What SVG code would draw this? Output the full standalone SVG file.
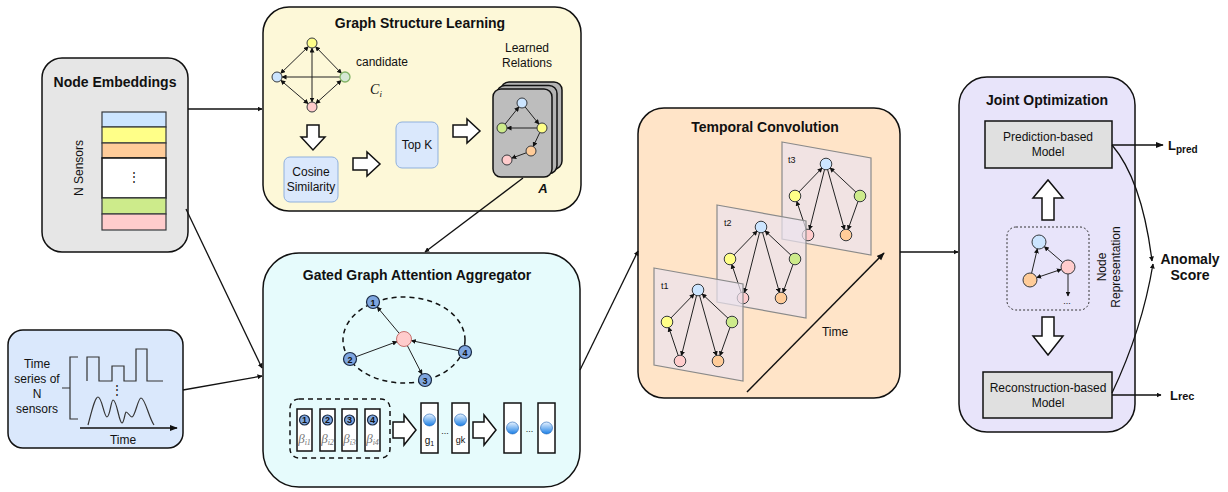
<svg xmlns="http://www.w3.org/2000/svg" width="1228" height="492" viewBox="0 0 1228 492">
<style>
.box{stroke:#111;stroke-width:1.5}
.ttl{font-family:"Liberation Sans",Arial,sans-serif;font-weight:bold;font-size:14px;fill:#111;text-anchor:middle}
.t{font-family:"Liberation Sans",Arial,sans-serif;font-size:12px;fill:#111;text-anchor:middle}
.sm{font-family:"Liberation Sans",Arial,sans-serif;font-size:9px;fill:#111}
.e{stroke:#222;stroke-width:1;fill:none}
.conn{stroke:#111;stroke-width:1.3;fill:none}
.blk{fill:#fff;stroke:#111;stroke-width:1.5;stroke-linejoin:miter}
.nb{fill:#cce5ff;stroke:#36393d;stroke-width:1}
.ny{fill:#ffff88;stroke:#36393d;stroke-width:1}
.ng{fill:#cdeb8b;stroke:#36393d;stroke-width:1}
.np{fill:#ffcccc;stroke:#36393d;stroke-width:1}
.no{fill:#ffcc99;stroke:#36393d;stroke-width:1}
.nd{fill:#7ea6e0;stroke:#1a2a44;stroke-width:1.2}
.num{font-family:"Liberation Sans",Arial,sans-serif;font-size:9px;font-weight:bold;fill:#111;text-anchor:middle}
.beta{font-family:"Liberation Serif","Times New Roman",serif;font-style:italic;font-size:13px;fill:#777;text-anchor:middle}
.gb{fill:#fff;stroke:#111;stroke-width:1.5}
</style>
<defs>
<marker id="ar" viewBox="0 0 10 10" refX="9" refY="5" markerWidth="5" markerHeight="5" orient="auto-start-reverse" markerUnits="userSpaceOnUse"><path d="M0,0 L10,5 L0,10 Z" fill="#111"/></marker>
<marker id="arL" viewBox="0 0 10 10" refX="9" refY="5" markerWidth="8" markerHeight="8" orient="auto-start-reverse" markerUnits="userSpaceOnUse"><path d="M0,1 L10,5 L0,9 Z" fill="#111"/></marker>
<linearGradient id="bg" x1="0" y1="0" x2="0" y2="1"><stop offset="0" stop-color="#e8f3ff"/><stop offset="1" stop-color="#1a7fe6"/></linearGradient>
<g id="panel">
<path d="M0,0 L89,16 L89,113 L0,97 Z" fill="#ebe2ee" fill-opacity="0.7" stroke="#8a8a8a" stroke-width="1.2"/>
<line class="e" x1="16.8" y1="50.1" x2="40.2" y2="25.9" marker-end="url(#ar)"/>
<line class="e" x1="42.6" y1="27.3" x2="27.4" y2="87.7" marker-end="url(#ar)"/>
<line class="e" x1="24.3" y1="87.8" x2="14.7" y2="59.2" marker-end="url(#ar)"/>
<line class="e" x1="45.5" y1="27.3" x2="62.5" y2="87.7" marker-end="url(#ar)"/>
<line class="e" x1="74" y1="50.2" x2="48" y2="25.8" marker-end="url(#ar)"/>
<line class="e" x1="76.1" y1="59.2" x2="65.9" y2="87.8" marker-end="url(#ar)"/>
<circle class="nb" cx="44" cy="22" r="5.8"/>
<circle class="ny" cx="13" cy="54" r="5.8"/>
<circle class="ng" cx="78" cy="54" r="5.8"/>
<circle class="np" cx="26" cy="93" r="5.8"/>
<circle class="no" cx="64" cy="93" r="5.8"/>
</g>
</defs>

<!-- Node Embeddings -->
<g id="node-embeddings">
<rect class="box" x="42" y="58" width="146" height="194" rx="20" fill="#e6e6e6"/>
<text class="ttl" x="115" y="87">Node Embeddings</text>
<rect x="102" y="112" width="64" height="15" fill="#cce5ff" stroke="#36393d" stroke-width="1.2"/>
<rect x="102" y="127" width="64" height="16" fill="#ffff88" stroke="#36393d" stroke-width="1.2"/>
<rect x="102" y="143" width="64" height="15" fill="#ffcc99" stroke="#36393d" stroke-width="1.2"/>
<rect x="102" y="158" width="64" height="40" fill="#ffffff" stroke="#111" stroke-width="1.5"/>
<text class="t" x="134" y="181">⋮</text>
<rect x="102" y="198" width="64" height="16" fill="#cdeb8b" stroke="#36393d" stroke-width="1.2"/>
<rect x="102" y="214" width="64" height="16" fill="#ffcccc" stroke="#36393d" stroke-width="1.2"/>
<text class="t" x="0" y="0" transform="translate(83,168) rotate(-90)">N Sensors</text>
</g>

<!-- Graph Structure Learning -->
<g id="graph-structure-learning">
<rect class="box" x="263" y="7" width="318" height="204" rx="26" fill="#fdf8d8"/>
<text class="ttl" x="420" y="28">Graph Structure Learning</text>
<line class="e" x1="308.4" y1="46.5" x2="280.6" y2="73.5" marker-start="url(#ar)" marker-end="url(#ar)"/>
<line class="e" x1="315.5" y1="46.6" x2="341.5" y2="73.4" marker-start="url(#ar)" marker-end="url(#ar)"/>
<line class="e" x1="312" y1="48" x2="312" y2="102" marker-start="url(#ar)" marker-end="url(#ar)"/>
<line class="e" x1="280.8" y1="80.3" x2="308.2" y2="103.7" marker-start="url(#ar)" marker-end="url(#ar)"/>
<line class="e" x1="341.3" y1="80.4" x2="315.7" y2="103.6" marker-start="url(#ar)" marker-end="url(#ar)"/>
<line class="e" x1="340" y1="77" x2="282" y2="77" marker-end="url(#ar)"/>
<circle class="ny" cx="312" cy="43" r="5"/>
<circle class="nb" cx="277" cy="77" r="5"/>
<circle cx="345" cy="77" r="5" fill="#d5e8d4" stroke="#82b366" stroke-width="1.3"/>
<circle class="np" cx="312" cy="107" r="5"/>
<text class="t" x="382" y="66">candidate</text>
<text x="376" y="94" font-family="'Liberation Serif','Times New Roman',serif" font-style="italic" font-size="14" fill="#111" text-anchor="middle">C<tspan font-size="9" dy="3">i</tspan></text>
<path class="blk" d="M307,125 V137 H301 L313,150 L325,137 H319 V125 Z"/>
<rect x="284" y="157" width="54" height="45" rx="6" fill="#dae8fc" stroke="#8fb0dd" stroke-width="1"/>
<text class="t" x="311" y="176">Cosine</text>
<text class="t" x="311" y="191">Similarity</text>
<path class="blk" d="M353,158 H367 V152 L380,164 L367,176 V170 H353 Z"/>
<rect x="396" y="122" width="42" height="46" rx="6" fill="#dae8fc" stroke="#8fb0dd" stroke-width="1"/>
<text class="t" x="417" y="149">Top K</text>
<path class="blk" d="M453,125 H467 V119 L480,131 L467,143 V137 H453 Z"/>
<text class="t" x="527" y="52">Learned</text>
<text class="t" x="527" y="67">Relations</text>
<rect x="501" y="82" width="61" height="87" rx="8" fill="#b3b3b3" stroke="#111" stroke-width="1.5"/>
<rect x="497" y="85.5" width="60" height="88" rx="8" fill="#b3b3b3" stroke="#111" stroke-width="1.5"/>
<rect x="493" y="89" width="59" height="88" rx="8" fill="#bdbdbd" stroke="#111" stroke-width="1.5"/>
<line class="e" x1="525.1" y1="106.9" x2="538.9" y2="124.1" marker-end="url(#ar)"/>
<line class="e" x1="505.1" y1="124.1" x2="518.9" y2="106.9" marker-end="url(#ar)"/>
<line class="e" x1="537" y1="128" x2="507" y2="128" marker-end="url(#ar)"/>
<line class="e" x1="539.8" y1="132.5" x2="533.2" y2="146.5" marker-end="url(#ar)"/>
<line class="e" x1="526.3" y1="152.8" x2="511.7" y2="158.2" marker-end="url(#ar)"/>
<circle class="nb" cx="522" cy="103" r="5"/>
<circle class="ng" cx="502" cy="128" r="5"/>
<circle class="ny" cx="542" cy="128" r="5"/>
<circle class="no" cx="531" cy="151" r="5"/>
<circle class="np" cx="507" cy="160" r="5"/>
<text x="543" y="193" font-family="'Liberation Sans',Arial,sans-serif" font-weight="bold" font-style="italic" font-size="13" fill="#111" text-anchor="middle">A</text>
</g>

<!-- Time series -->
<g id="time-series">
<rect class="box" x="8" y="330" width="175" height="118" rx="15" fill="#dae8fc"/>
<text class="t" x="37" y="368" font-size="11.5">Time</text>
<text class="t" x="37" y="383" font-size="11.5">series of</text>
<text class="t" x="37" y="398" font-size="11.5">N</text>
<text class="t" x="37" y="413" font-size="11.5">sensors</text>
<path d="M78,357 H70 V419 H78 M62,388 H70" fill="none" stroke="#333" stroke-width="1.2"/>
<polyline points="87,381 87,357 99,357 99,381 112,381 112,366 124,366 124,381 136,381 136,349 147,349 147,381 163,381" fill="none" stroke="#333" stroke-width="1.2"/>
<text class="t" x="117" y="394" font-size="10">⋮</text>
<path d="M88,425 C92,410 95,397 98,397 C102,397 104,417 107,417 C110,417 111,400 113,400 C117,400 119,423 122,423 C124,423 125,412 126,412 C128,412 130,417 132,417 C135,417 138,398 141,398 C145,398 149,418 154,425" fill="none" stroke="#333" stroke-width="1.2"/>
<line x1="80" y1="428" x2="177" y2="428" stroke="#111" stroke-width="1.3" marker-end="url(#arL)"/>
<text class="t" x="123" y="444">Time</text>
</g>

<!-- Gated Graph Attention Aggregator -->
<g id="gated-graph-attention">
<rect class="box" x="263" y="253" width="317" height="234" rx="36" fill="#e6fbfc"/>
<text class="ttl" x="417" y="280">Gated Graph Attention Aggregator</text>
<ellipse cx="404" cy="340" rx="61" ry="43" fill="none" stroke="#111" stroke-width="1.5" stroke-dasharray="5,4"/>
<line class="e" x1="399.2" y1="333.3" x2="377.2" y2="307" marker-end="url(#ar)"/>
<line class="e" x1="356.1" y1="356.7" x2="397" y2="341.6" marker-end="url(#ar)"/>
<line class="e" x1="407.4" y1="345.7" x2="422" y2="374.2" marker-end="url(#ar)"/>
<line class="e" x1="458.6" y1="350.6" x2="411.3" y2="340.6" marker-end="url(#ar)"/>
<circle cx="404" cy="339" r="7.5" fill="#ffcccc" stroke="#b85450" stroke-width="0.8"/>
<circle class="nd" cx="373" cy="302" r="6.5"/><text class="num" x="373" y="305.5">1</text>
<circle class="nd" cx="350" cy="359" r="6.5"/><text class="num" x="350" y="362.5">2</text>
<circle class="nd" cx="425" cy="380" r="6.5"/><text class="num" x="425" y="383.5">3</text>
<circle class="nd" cx="465" cy="352" r="6.5"/><text class="num" x="465" y="355.5">4</text>
<rect x="290" y="399" width="100" height="59" rx="9" fill="none" stroke="#111" stroke-width="1.5" stroke-dasharray="5,4"/>
<rect class="gb" x="297" y="409" width="15" height="42"/>
<rect class="gb" x="320" y="409" width="15" height="42"/>
<rect class="gb" x="342" y="409" width="15" height="42"/>
<rect class="gb" x="365" y="409" width="15" height="42"/>
<circle class="nd" cx="304.5" cy="420" r="5"/><text class="num" x="304.5" y="423">1</text>
<circle class="nd" cx="327.5" cy="420" r="5"/><text class="num" x="327.5" y="423">2</text>
<circle class="nd" cx="349.5" cy="420" r="5"/><text class="num" x="349.5" y="423">3</text>
<circle class="nd" cx="372.5" cy="420" r="5"/><text class="num" x="372.5" y="423">4</text>
<text class="beta" x="304.5" y="443">β<tspan font-size="8" dy="2">i1</tspan></text>
<text class="beta" x="327.5" y="443">β<tspan font-size="8" dy="2">i2</tspan></text>
<text class="beta" x="349.5" y="443">β<tspan font-size="8" dy="2">i3</tspan></text>
<text class="beta" x="372.5" y="443">β<tspan font-size="8" dy="2">i4</tspan></text>
<path class="blk" d="M393,422 H404 V415 L416,430 L404,445 V438 H393 Z"/>
<rect class="gb" x="421" y="403" width="17" height="50"/>
<rect class="gb" x="452" y="403" width="17" height="50"/>
<circle cx="429.5" cy="420" r="6" fill="url(#bg)" stroke="#1a5fb4" stroke-width="0.6"/>
<circle cx="460.5" cy="420" r="6" fill="url(#bg)" stroke="#1a5fb4" stroke-width="0.6"/>
<text x="429.5" y="444" font-family="'Liberation Sans',Arial,sans-serif" font-size="10" fill="#111" text-anchor="middle">g<tspan font-size="7" dy="2">1</tspan></text>
<text x="460.5" y="443" font-family="'Liberation Sans',Arial,sans-serif" font-size="9" fill="#111" text-anchor="middle">gk</text>
<text x="445" y="434" font-family="'Liberation Sans',Arial,sans-serif" font-size="9" fill="#111" text-anchor="middle">...</text>
<path class="blk" d="M473,422 H484 V415 L496,430 L484,445 V438 H473 Z"/>
<rect class="gb" x="504" y="403" width="17" height="50"/>
<rect class="gb" x="538" y="403" width="17" height="50"/>
<circle cx="512.5" cy="428" r="6" fill="url(#bg)" stroke="#1a5fb4" stroke-width="0.6"/>
<circle cx="546.5" cy="428" r="6" fill="url(#bg)" stroke="#1a5fb4" stroke-width="0.6"/>
<text x="529.5" y="432" font-family="'Liberation Sans',Arial,sans-serif" font-size="9" fill="#111" text-anchor="middle">...</text>
</g>

<!-- Temporal Convolution -->
<g id="temporal-convolution">
<rect class="box" x="638" y="108" width="262" height="290" rx="26" fill="#ffe4c8"/>
<text class="ttl" x="765" y="132">Temporal Convolution</text>
<use href="#panel" transform="translate(782,142)"/>
<use href="#panel" transform="translate(717,205)"/>
<use href="#panel" transform="translate(654,268)"/>
<text class="sm" x="788" y="163">t3</text>
<text class="sm" x="724" y="226">t2</text>
<text class="sm" x="661" y="289">t1</text>
<line x1="747" y1="392" x2="884" y2="253" stroke="#111" stroke-width="1.5" marker-end="url(#arL)"/>
<text class="t" x="835" y="336">Time</text>
</g>

<!-- Joint Optimization -->
<g id="joint-optimization">
<rect class="box" x="959" y="77" width="176" height="355" rx="28" fill="#e8e4fa"/>
<text class="ttl" x="1047" y="105">Joint Optimization</text>
<rect x="985" y="121" width="127" height="47" fill="#e0e0e0" stroke="#111" stroke-width="1.5"/>
<text class="t" x="1048" y="141">Prediction-based</text>
<text class="t" x="1048" y="156">Model</text>
<path class="blk" d="M1042,220 V198 H1033 L1048,180 L1063,198 H1054 V220 Z"/>
<rect x="1007" y="227" width="82" height="83" rx="9" fill="none" stroke="#333" stroke-width="1" stroke-dasharray="2,2"/>
<line class="e" x1="1031.6" y1="273.2" x2="1037.4" y2="248.8" marker-end="url(#ar)"/>
<line class="e" x1="1062.7" y1="262.4" x2="1044.3" y2="246.6" marker-end="url(#ar)"/>
<line class="e" x1="1061.4" y1="269.3" x2="1036.6" y2="277.7" marker-start="url(#ar)" marker-end="url(#ar)"/>
<line class="e" x1="1068" y1="274" x2="1068" y2="296" marker-end="url(#ar)"/>
<text x="1067" y="304" font-family="'Liberation Sans',Arial,sans-serif" font-size="9" fill="#111" text-anchor="middle">...</text>
<circle class="nb" cx="1039" cy="242" r="7"/>
<circle class="np" cx="1068" cy="267" r="7"/>
<circle class="no" cx="1030" cy="280" r="7"/>
<text class="t" font-size="11" transform="translate(1106,267) rotate(-90)">Node</text>
<text class="t" font-size="11" transform="translate(1120,267) rotate(-90)">Representation</text>
<path class="blk" d="M1042,317 V336 H1033 L1048,355 L1063,336 H1054 V317 Z"/>
<rect x="983" y="372" width="129" height="46" fill="#e0e0e0" stroke="#111" stroke-width="1.5"/>
<text class="t" x="1048" y="392">Reconstruction-based</text>
<text class="t" x="1048" y="407">Model</text>
</g>

<!-- Outputs -->
<g id="outputs">
<text x="1168" y="150" font-family="'Liberation Sans',Arial,sans-serif" font-weight="bold" font-size="13" fill="#111">L<tspan font-size="10" dy="3">pred</tspan></text>
<text x="1170" y="400" font-family="'Liberation Sans',Arial,sans-serif" font-weight="bold" font-size="13" fill="#111">L<tspan font-size="11">rec</tspan></text>
<text class="ttl" x="1190" y="264">Anomaly</text>
<text class="ttl" x="1190" y="280">Score</text>
</g>

<!-- Connectors -->
<g id="connectors">
<line class="conn" x1="188" y1="109" x2="262" y2="109" marker-end="url(#ar)"/>
<line class="conn" x1="186" y1="209" x2="262" y2="368" marker-end="url(#ar)"/>
<line class="conn" x1="183" y1="390" x2="262" y2="376" marker-end="url(#ar)"/>
<line class="conn" x1="523" y1="178" x2="425" y2="252" marker-end="url(#ar)"/>
<line class="conn" x1="580" y1="370" x2="638" y2="251" marker-end="url(#ar)"/>
<line class="conn" x1="900" y1="252" x2="958" y2="252" marker-end="url(#ar)"/>
<line class="conn" x1="1112" y1="145" x2="1163" y2="145" marker-end="url(#arL)"/>
<line class="conn" x1="1112" y1="395" x2="1161" y2="395" marker-end="url(#ar)"/>
<path class="conn" d="M1112,145 Q1142,180 1152,261" marker-end="url(#ar)"/>
<path class="conn" d="M1112,393 Q1142,330 1153,264" marker-end="url(#ar)"/>
</g>
</svg>
